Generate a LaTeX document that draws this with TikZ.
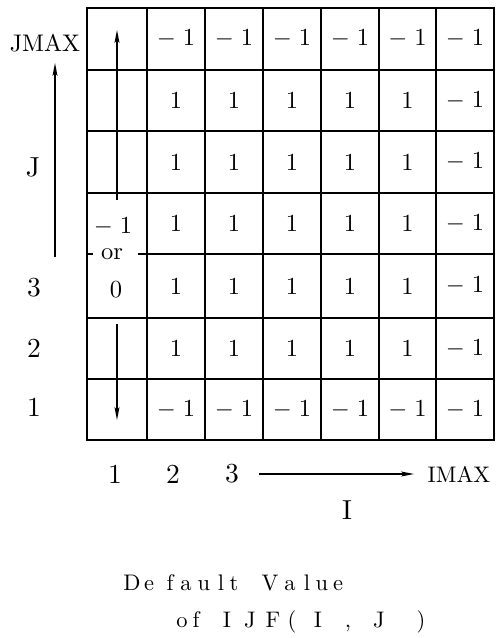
\documentclass[tikz,border=0pt]{standalone}
\usetikzlibrary{arrows.meta}

\begin{document}
\begin{tikzpicture}[x=1pt, y=-1pt,
    cellval/.style={scale=2.45, inner sep=0pt},
    axislabel/.style={scale=2.75, inner sep=0pt},
    capchar/.style={scale=2.25, anchor=base, inner sep=0pt},
    gridline/.style={line width=1.6pt},
    axisarrow/.style={line width=1.2pt, -{Stealth[length=13pt, width=5pt, inset=3pt]}}]
    \useasboundingbox (0,0) rectangle (501,638);

    % grid lines
    \foreach \x in {147,205,263,321,379,436}
        \draw[gridline] (\x,8) -- (\x,440);
    \foreach \y in {70,131,193,318,379}
        \draw[gridline] (87,\y) -- (494,\y);
    \draw[gridline] (138,254) -- (494,254);
    \draw[gridline] (87,254) -- (93,254);
    \draw[line width=2.6pt] (87,8) rectangle (494,440);

    % cell values
    \foreach \i/\x in {2/176,3/234,4/292,5/350,6/407.5}{
        \node[cellval] (v-\i-7) at (\x,39) {$-\;1$};
        \node[cellval] (v-\i-1) at (\x,409.5) {$-\;1$};
        \foreach \j/\y in {6/100.5,5/162,4/223.5,3/286,2/348.5}
            \node[cellval] (v-\i-\j) at (\x,\y) {1};
    }
    \foreach \j/\y in {7/39,6/100.5,5/162,4/223.5,3/286,2/348.5,1/409.5}
        \node[cellval] (v-7-\j) at (465,\y) {$-\;1$};
    \node[cellval] (v-1-4) at (113,227) {$-\;1$};
    \node[cellval, fill=white, inner sep=1pt] (v-1-or) at (112,254) {or};
    \node[cellval] (v-1-3) at (116,290) {0};

    % arrows in first column
    \coordinate (up-start) at (117,200);
    \coordinate (up-end) at (117,30);
    \draw[axisarrow] (up-start) -- (up-end);
    \coordinate (down-start) at (117,324);
    \coordinate (down-end) at (117,420);
    \draw[axisarrow] (down-start) -- (down-end);

    % J axis
    \node[axislabel, scale=2.4/2.75] (jmax) at (45,43) {JMAX};
    \node[axislabel] (jlabel) at (33,167) {J};
    \node[axislabel] (j3) at (34,288) {3};
    \node[axislabel] (j2) at (34,348) {2};
    \node[axislabel] (j1) at (34,407) {1};
    \coordinate (j-start) at (55,257);
    \coordinate (j-end) at (55,63);
    \draw[axisarrow] (j-start) -- (j-end);

    % I axis
    \node[axislabel] (i1) at (115,474) {1};
    \node[axislabel] (i2) at (173,474) {2};
    \node[axislabel] (i3) at (232,474) {3};
    \node[axislabel, scale=2.25/2.75] (imax) at (459,474) {IMAX};
    \node[axislabel] (ilabel) at (347,510) {I};
    \coordinate (i-start) at (259,474);
    \coordinate (i-end) at (414,474);
    \draw[axisarrow] (i-start) -- (i-end);

    % caption, one character per cell
    \foreach \c/\x [count=\k] in {D/132,e/149,f/170,a/186,u/204,l/221,t/234,V/270,a/290,l/307,u/322,e/338}
        \node[capchar] (capa-\k) at (\x,590) {\c};
    \foreach \c/\x [count=\k] in {o/182,f/196,I/227,J/250,F/273,{(}/292,I/318,{,}/348,J/379,{)}/421}
        \node[capchar] (capb-\k) at (\x,627) {\c};
\end{tikzpicture}
\end{document}
